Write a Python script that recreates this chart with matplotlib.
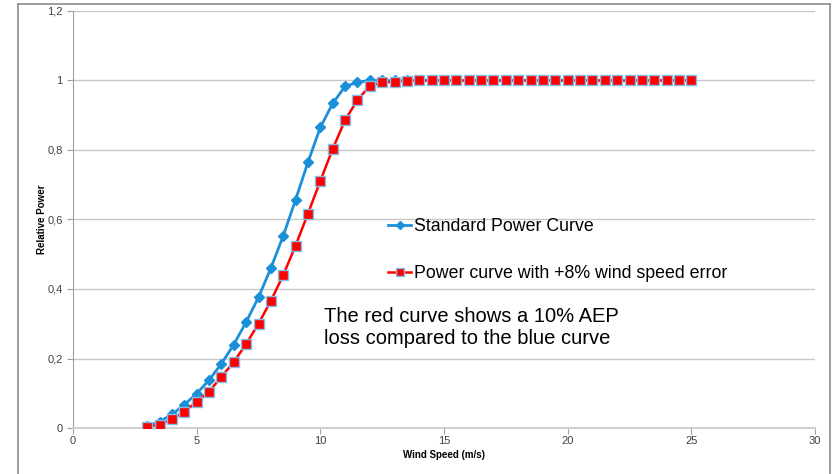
import matplotlib
matplotlib.use("Agg")
import matplotlib.pyplot as plt
from matplotlib.lines import Line2D
from matplotlib.ticker import FuncFormatter

plt.rcParams['font.family'] = ['Liberation Sans', 'DejaVu Sans']

wind_speed = [3 + 0.5 * i for i in range(45)]  # 3 .. 25 m/s

standard = [0.006, 0.018, 0.039, 0.067, 0.099, 0.138, 0.185, 0.240, 0.305, 0.376,
            0.460, 0.553, 0.657, 0.765, 0.865, 0.934, 0.983, 0.995, 1.0, 1.0,
            1.0, 1.0, 1.0, 1.0, 1.0, 1.0, 1.0, 1.0, 1.0, 1.0,
            1.0, 1.0, 1.0, 1.0, 1.0, 1.0, 1.0, 1.0, 1.0, 1.0,
            1.0, 1.0, 1.0, 1.0, 1.0]
with_error = [0.004, 0.010, 0.025, 0.047, 0.075, 0.105, 0.147, 0.190, 0.242, 0.300,
              0.366, 0.440, 0.525, 0.617, 0.711, 0.803, 0.886, 0.944, 0.984, 0.995,
              0.996, 0.999, 1.0, 1.0, 1.0, 1.0, 1.0, 1.0, 1.0, 1.0,
              1.0, 1.0, 1.0, 1.0, 1.0, 1.0, 1.0, 1.0, 1.0, 1.0,
              1.0, 1.0, 1.0, 1.0, 1.0]

series_labels = ["Standard Power Curve", "Power curve with +8% wind speed error"]

fig = plt.figure(figsize=(8.35, 4.74), dpi=100)
ax = fig.add_axes([73/835, 1 - 428/474, (815 - 73)/835, (428 - 11)/474])

blue = '#1a90d9'
red = '#ff0000'

l1, = ax.plot(wind_speed, standard, color=blue, lw=2, marker='D', ms=5,
              mfc=blue, mec=blue, zorder=3)
l2, = ax.plot(wind_speed, with_error, color=red, lw=1.8, marker='s', ms=7,
              mfc=red, mec='#7fc0ea', mew=1.0, zorder=4)

ax.set_xlim(0, 30)
ax.set_ylim(0, 1.2)
ax.set_xticks([0, 5, 10, 15, 20, 25, 30])
ax.set_yticks([0, 0.2, 0.4, 0.6, 0.8, 1.0, 1.2])

def yfmt(v, p):
    return ('%g' % round(v, 2)).replace('.', ',')
ax.yaxis.set_major_formatter(FuncFormatter(yfmt))

ax.grid(axis='y', color='#c8c8c8', lw=1)
ax.set_axisbelow(True)
for s in ['top', 'right']:
    ax.spines[s].set_visible(False)
ax.spines['left'].set_color('#a0a0a0')
ax.spines['bottom'].set_color('#d0d0d0')
ax.spines['bottom'].set_linewidth(1.5)
ax.tick_params(axis='both', labelsize=8, colors='#404040', length=4, color='#a0a0a0')
ax.tick_params(axis='x', pad=2)

ax.set_xlabel("Wind Speed (m/s)", fontsize=7, fontweight='bold', labelpad=3)
ax.set_ylabel("Relative Power", fontsize=7, fontweight='bold', labelpad=0)

leg = ax.legend([l1, l2], series_labels, loc='upper left',
                bbox_to_anchor=(383/835, 1 - 213/474), bbox_transform=fig.transFigure,
                frameon=False, fontsize=12.8, handlelength=1.3, handletextpad=0.12,
                labelspacing=1.68, markerscale=0.8, borderaxespad=0, borderpad=0.3)

fig.text(324/835, 1 - 327/474, "The red curve shows a 10% AEP\nloss compared to the blue curve",
         fontsize=14.5, va='center', ha='left', linespacing=1.2)

# outer frame
fc = '#8c8c8c'
fig.add_artist(Line2D([18/835, 18/835], [0, 1 - 4/474], transform=fig.transFigure, color=fc, lw=1.2))
fig.add_artist(Line2D([18/835, 830/835], [1 - 4/474, 1 - 4/474], transform=fig.transFigure, color=fc, lw=1.2))
fig.add_artist(Line2D([830/835, 830/835], [0, 1 - 4/474], transform=fig.transFigure, color=fc, lw=1.2))

fig.savefig("out.png", dpi=100)
